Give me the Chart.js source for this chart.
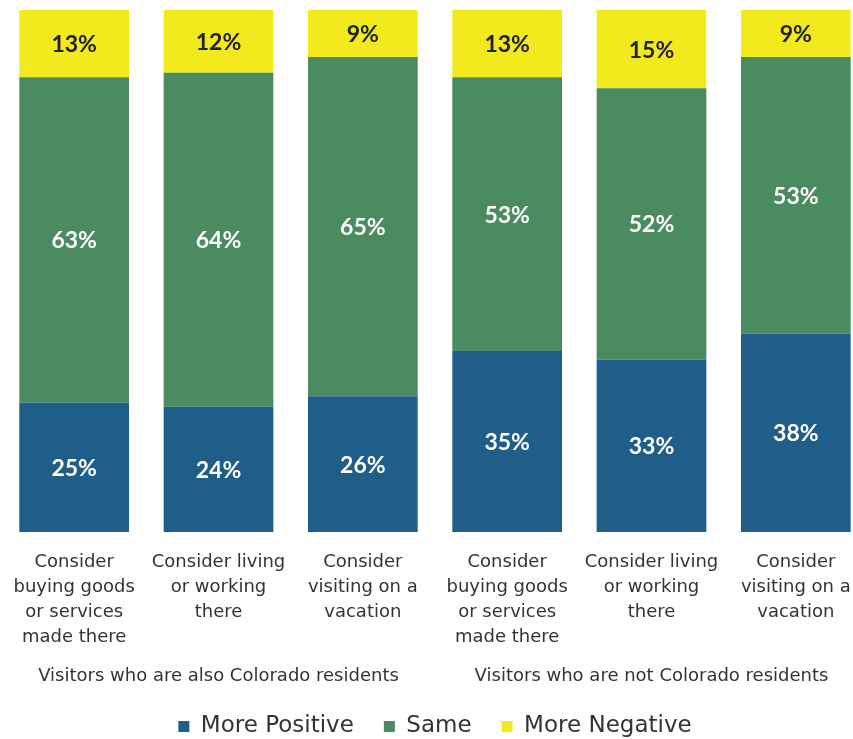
<!DOCTYPE html>
<html lang="en">
<head>
  <meta charset="UTF-8" />
  <title>Colorado perception</title>
  <script src="https://cdn.jsdelivr.net/npm/chart.js"></script>
  <style>
    * { margin: 0; padding: 0; box-sizing: border-box; }
    html, body { width: 853px; height: 739px; overflow: hidden; background: #fff; }
    .wrap { width: 868px; height: 739px; position: relative; }
  </style>
</head>
<body>
  <div class="wrap">
    <canvas id="chart"></canvas>
  </div>

  <script>
    const categories = [
      ['Consider', 'buying goods', 'or services', 'made there'],
      ['Consider living', 'or working', 'there'],
      ['Consider', 'visiting on a', 'vacation'],
      ['Consider', 'buying goods', 'or services', 'made there'],
      ['Consider living', 'or working', 'there'],
      ['Consider', 'visiting on a', 'vacation']
    ];
    const groups = ['Visitors who are also Colorado residents', 'Visitors who are not Colorado residents'];
    const morePositive = [25, 24, 26, 35, 33, 38];
    const same = [63, 64, 65, 53, 52, 53];
    const moreNegative = [13, 12, 9, 13, 15, 9];

    const blue = '#1f5e88';
    const green = '#4a8b5f';
    const yellow = '#f2ea1d';

    // bars are shown as 100% stacks, so scale each column by its total
    const totals = morePositive.map((v, i) => v + same[i] + moreNegative[i]);
    const pct = arr => arr.map((v, i) => v / totals[i] * 100);

    const barLabels = {
      id: 'barLabels',
      afterDatasetsDraw(chart) {
        const ctx = chart.ctx;
        ctx.save();
        ctx.font = 'bold 23px Lato, sans-serif';
        ctx.textAlign = 'center';
        ctx.textBaseline = 'middle';
        chart.data.datasets.forEach((ds, di) => {
          const meta = chart.getDatasetMeta(di);
          meta.data.forEach((bar, i) => {
            ctx.fillStyle = ds.labelColor;
            ctx.fillText(ds.raw[i] + '%', bar.x, (bar.y + bar.base) / 2 + 1);
          });
        });
        ctx.restore();
      }
    };

    const groupLabels = {
      id: 'groupLabels',
      afterDraw(chart) {
        const ctx = chart.ctx;
        const x = chart.scales.x;
        ctx.save();
        ctx.font = '18px "DejaVu Sans", sans-serif';
        ctx.fillStyle = '#333';
        ctx.textAlign = 'center';
        ctx.textBaseline = 'middle';
        const y = chart.chartArea.bottom + 144;
        ctx.fillText(groups[0], x.getPixelForValue(1), y);
        ctx.fillText(groups[1], x.getPixelForValue(4), y);
        ctx.restore();
      }
    };

    new Chart(document.getElementById('chart'), {
      type: 'bar',
      data: {
        labels: categories,
        datasets: [
          { label: 'More Positive', data: pct(morePositive), raw: morePositive, backgroundColor: blue, labelColor: '#fff' },
          { label: 'Same', data: pct(same), raw: same, backgroundColor: green, labelColor: '#fff' },
          { label: 'More Negative', data: pct(moreNegative), raw: moreNegative, backgroundColor: yellow, labelColor: '#222' }
        ]
      },
      options: {
        responsive: true,
        maintainAspectRatio: false,
        animation: false,
        layout: { padding: { top: 10, left: 2, right: 0, bottom: -9 } },
        datasets: { bar: { barPercentage: 0.76, categoryPercentage: 1 } },
        scales: {
          x: {
            stacked: true,
            grid: { display: false },
            border: { display: false },
            ticks: {
              color: '#333',
              font: { family: 'DejaVu Sans', size: 18, lineHeight: 1.38 },
              maxRotation: 0,
              autoSkip: false,
              padding: 10
            },
            afterFit(scale) { scale.height = 153; }
          },
          y: {
            stacked: true,
            display: false,
            min: 0,
            max: 100
          }
        },
        plugins: {
          legend: {
            position: 'bottom',
            labels: {
              color: '#333',
              font: { family: 'DejaVu Sans', size: 23 },
              boxWidth: 11,
              boxHeight: 11,
              padding: 30
            }
          },
          tooltip: { enabled: false }
        }
      },
      plugins: [barLabels, groupLabels]
    });
  </script>
</body>
</html>
